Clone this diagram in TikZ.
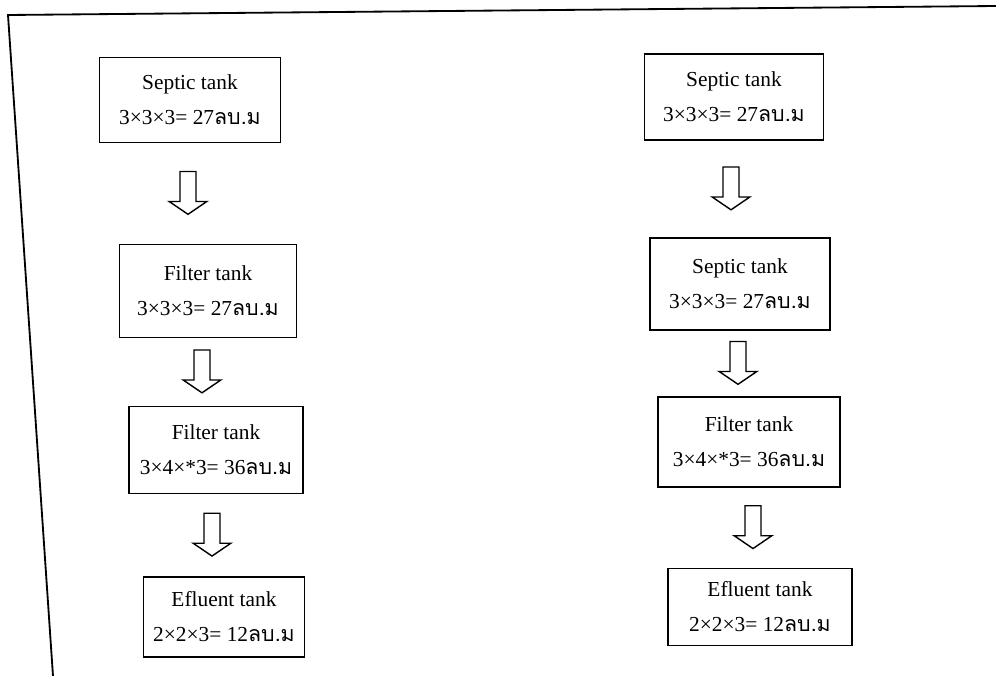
\documentclass[tikz,border=0pt]{standalone}
\usepackage{fontspec}
\setmainfont{Liberation Serif}
\newfontfamily\thaifont[Script=Thai]{Loma}
\usetikzlibrary{calc}
\newcommand{\lbm}{{\thaifont ลบ.ม}}
\tikzset{
  tank/.style 2 args={draw, line width=1.1pt, align=center, inner sep=0pt,
    minimum width=#1*0.025cm, minimum height=#2*0.025cm,
    font=\fontsize{15.2}{25}\selectfont},
  flow/.style={draw, line width=1pt, fill=white, line join=miter}
}
\newcommand{\flowarrow}[3]{%
  \path[flow] let \p1=($(#1.south)!0.5!(#2.north)$), \p2=(#3,0) in
    (\x2-0.2cm,\y1+0.55cm) -- (\x2+0.2cm,\y1+0.55cm) -- (\x2+0.2cm,\y1-0.2cm)
    -- (\x2+0.47cm,\y1-0.2cm) -- (\x2,\y1-0.52cm) -- (\x2-0.47cm,\y1-0.2cm)
    -- (\x2-0.2cm,\y1-0.2cm) -- cycle;}
\begin{document}
\begin{tikzpicture}[x=0.025cm, y=-0.025cm]
  \useasboundingbox (0,0) rectangle (996,676);
  \draw[line width=1.3pt] (996,6) -- (8,15) -- (53,676);

  \node[tank={181}{85}] (lsep)  at (190,100) {Septic tank\\3×3×3= 27\lbm};
  \node[tank={177}{93}] (lfil)  at (208,291) {Filter tank\\3×3×3= 27\lbm};
  \node[tank={174}{87}] (lfil2) at (216,450) {Filter tank\\3×4×*3= 36\lbm};
  \node[tank={161}{80}] (leff)  at (224,617) {Efluent tank\\2×2×3= 12\lbm};

  \node[tank={179}{86}] (rsep)  at (734,97)  {Septic tank\\3×3×3= 27\lbm};
  \node[tank={180}{92}] (rsep2) at (740,284) {Septic tank\\3×3×3= 27\lbm};
  \node[tank={182}{90}] (rfil)  at (749,442) {Filter tank\\3×4×*3= 36\lbm};
  \node[tank={184}{77}] (reff)  at (760,607) {Efluent tank\\2×2×3= 12\lbm};

  \flowarrow{lsep}{lfil}{188}
  \flowarrow{lfil}{lfil2}{202}
  \flowarrow{lfil2}{leff}{212}
  \flowarrow{rsep}{rsep2}{731}
  \flowarrow{rsep2}{rfil}{738}
  \flowarrow{rfil}{reff}{753}
\end{tikzpicture}
\end{document}
